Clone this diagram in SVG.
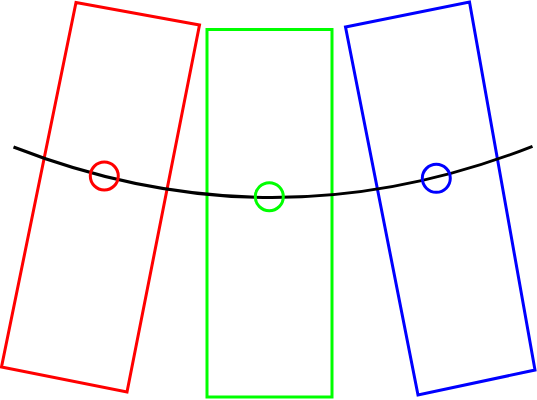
<svg xmlns="http://www.w3.org/2000/svg" width="537" height="400" viewBox="0 0 537 400">
<style>
.s{fill:none;stroke-width:3}
.r{stroke:#ff0000}.g{stroke:#00ff00}.b{stroke:#0000ff}.k{stroke:#000000}
</style>
<rect width="537" height="400" fill="#ffffff"/>
<g id="red-box"><polygon class="s r" points="76,2.5 199.5,25 127,392 1.5,367"/></g>
<g id="green-box"><rect class="s g" x="207" y="29.5" width="125" height="367.5"/></g>
<g id="blue-box"><polygon class="s b" points="345.5,27 469.5,2 535,370 418,395"/></g>
<g id="connectors"><path class="s k" d="M13.5,147 Q273,248.4 532.5,146.3"/></g>
<g id="red-marker"><circle class="s r" cx="104.3" cy="176" r="14"/></g>
<g id="green-marker"><circle class="s g" cx="269.3" cy="196.7" r="14"/></g>
<g id="blue-marker"><circle class="s b" cx="436.3" cy="178.3" r="14"/></g>
</svg>
